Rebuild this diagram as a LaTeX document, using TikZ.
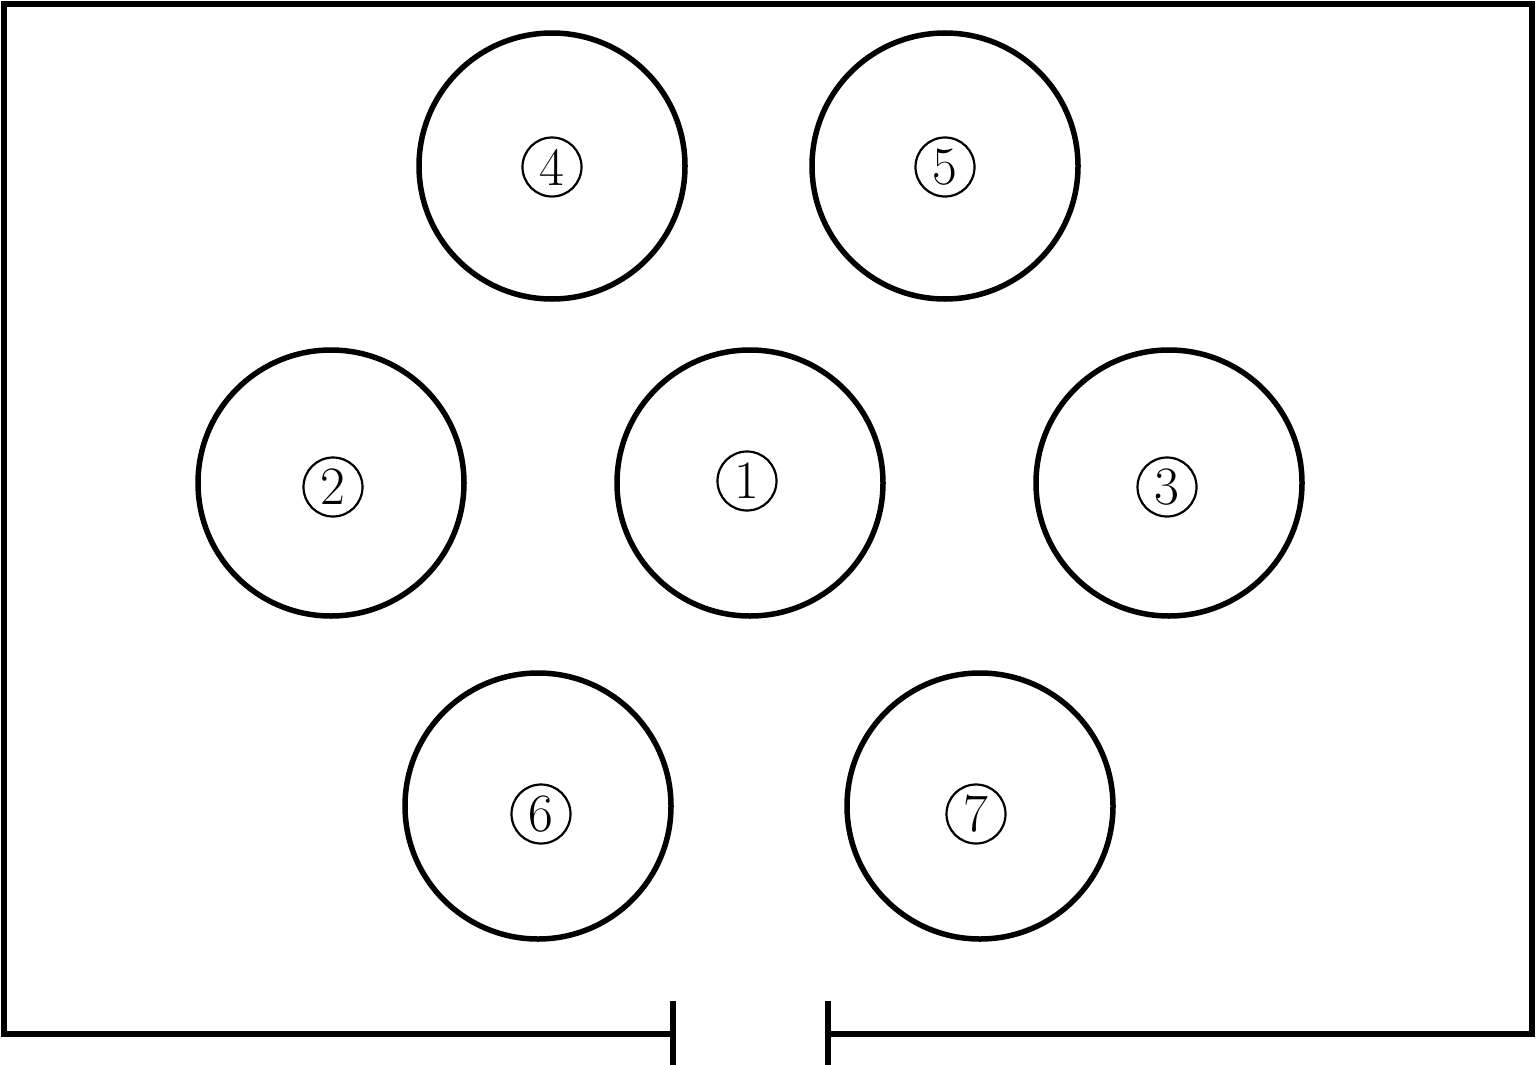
\documentclass[tikz,border=0pt]{standalone}
\begin{document}
\begin{tikzpicture}[x=1pt,y=-1pt,
  bigc/.style={circle,draw,line width=5.5pt,minimum size=266pt,inner sep=0pt},
  lab/.style={circle,draw,line width=2.2pt,minimum size=59pt,inner sep=0pt,font=\fontsize{54}{58}\selectfont},
  frame/.style={line width=6pt}]
\useasboundingbox (0,0) rectangle (1536,1065);
% frame
\draw[frame] (673,1034) -- (4,1034) -- (4,4) -- (1532,4) -- (1532,1034) -- (828,1034);
\draw[frame] (673,1001) -- (673,1065);
\draw[frame] (828,1001) -- (828,1065);
% circles
\node[bigc] (c4) at (552,166) {};
\node[bigc] (c5) at (945,166) {};
\node[bigc] (c2) at (331,483) {};
\node[bigc] (c1) at (750,483) {};
\node[bigc] (c3) at (1169,483) {};
\node[bigc] (c6) at (538,806) {};
\node[bigc] (c7) at (980,806) {};
% labels
\node[lab] (l4) at (552,167) {4};
\node[lab] (l5) at (945,167) {5};
\node[lab] (l2) at (333,487) {2};
\node[lab] (l1) at (747,481) {1};
\node[lab] (l3) at (1167,487) {3};
\node[lab] (l6) at (541,814) {6};
\node[lab] (l7) at (976,814) {7};
\end{tikzpicture}
\end{document}
